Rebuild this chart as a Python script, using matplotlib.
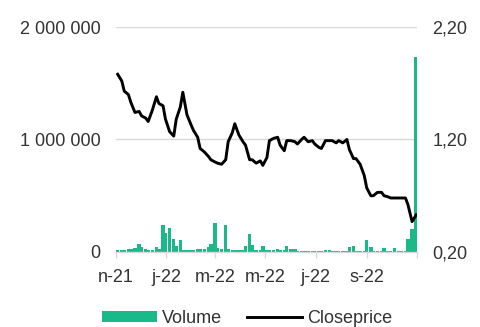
import matplotlib
matplotlib.use("Agg")
import matplotlib.pyplot as plt
from matplotlib.patches import Patch
from matplotlib.lines import Line2D
from matplotlib.ticker import FuncFormatter
import pandas as pd

plt.rcParams['font.family'] = ['Liberation Sans', 'DejaVu Sans']

# Trading days sampled every third session, Nov 2021 - Oct 2022
dates = pd.bdate_range('2021-11-01', '2022-10-31')[2::3]

closeprice = [
    1.78, 1.72, 1.63, 1.60, 1.53, 1.44, 1.45, 1.41, 1.39, 1.36,
    1.46, 1.58, 1.52, 1.50, 1.38, 1.27, 1.23, 1.38, 1.49, 1.62,
    1.42, 1.33, 1.28, 1.22, 1.12, 1.09, 1.05, 1.02, 1.00, 0.99,
    0.98, 1.02, 1.18, 1.26, 1.34, 1.24, 1.18, 1.15, 1.02, 1.02,
    0.99, 1.01, 0.97, 1.04, 1.19, 1.21, 1.22, 1.15, 1.10, 1.19,
    1.19, 1.18, 1.16, 1.20, 1.22, 1.18, 1.19, 1.16, 1.13, 1.12,
    1.19, 1.19, 1.19, 1.17, 1.19, 1.17, 1.20, 1.11, 1.03, 1.03,
    0.98, 0.88, 0.77, 0.70, 0.70, 0.73, 0.73, 0.70, 0.69, 0.68,
    0.68, 0.68, 0.68, 0.68, 0.62, 0.47, 0.53,
]

volume = [
    18000, 18000, 20000, 25000, 30000, 35000, 68000, 40000, 25000, 15000,
    20000, 40000, 30000, 240000, 170000, 217000, 113000, 50000, 104000, 20000,
    18000, 18000, 20000, 28000, 30000, 30000, 40000, 68000, 256000, 35000,
    30000, 240000, 30000, 18000, 18000, 20000, 20000, 50000, 158000, 60000,
    18000, 15000, 54000, 20000, 15000, 15000, 28000, 15000, 18000, 54000,
    30000, 25000, 12000, 10000, 10000, 10000, 8000, 10000, 8000, 10000,
    15000, 18000, 8000, 10000, 10000, 10000, 12000, 40000, 54000, 12000,
    8000, 8000, 107000, 40000, 12000, 10000, 10000, 35000, 10000, 10000,
    35000, 10000, 8000, 10000, 113000, 200000, 1730000,
]

tick_dates = ['2021-11-01', '2022-01-01', '2022-03-01', '2022-05-01',
              '2022-07-01', '2022-09-01', '2022-11-01']
tick_labels = ['n-21', 'j-22', 'm-22', 'm-22', 'j-22', 's-22', '']

green = '#19b98a'
text_color = '#333333'
grid_color = '#d9d9d9'

fig = plt.figure(figsize=(4.8, 3.27), dpi=100)
ax = fig.add_axes([0.2417, 0.2294, 0.6271, 0.688])
ax2 = ax.twinx()

ax.bar(dates, volume, width=4.2, color=green, align='center',
       linewidth=0, zorder=2)
ax2.plot(dates, closeprice, color='black', lw=2.1, zorder=3)

ax.set_ylim(0, 2000000)
ax.set_yticks([0, 1000000, 2000000])
ax.yaxis.set_major_formatter(FuncFormatter(lambda v, _: f"{int(v):,}".replace(',', ' ')))
ax2.set_ylim(0.2, 2.2)
ax2.set_yticks([0.2, 1.2, 2.2])
ax2.yaxis.set_major_formatter(FuncFormatter(lambda v, _: f"{v:.2f}".replace('.', ',')))

ax.set_xlim(pd.Timestamp('2021-11-01'), pd.Timestamp('2022-11-01'))
ax.set_xticks(pd.to_datetime(tick_dates))
ax.set_xticklabels(tick_labels)

for a in (ax, ax2):
    for s in ('top', 'left', 'right', 'bottom'):
        a.spines[s].set_visible(False)
ax.spines['bottom'].set_visible(True)
ax.spines['bottom'].set_color(grid_color)
ax.spines['bottom'].set_linewidth(1.0)

ax.yaxis.grid(True, color=grid_color, lw=1.0, zorder=0)
ax.set_axisbelow(True)

ax.tick_params(axis='y', length=0, pad=11, labelsize=13, labelcolor=text_color)
ax2.tick_params(axis='y', length=0, pad=11, labelsize=13, labelcolor=text_color)
ax.tick_params(axis='x', length=4, color=grid_color, width=1.0, pad=8,
               labelsize=13, labelcolor=text_color)

handles = [Patch(facecolor=green, edgecolor='none'),
           Line2D([], [], color='black', lw=2.1)]
fig.legend(handles, ['Volume', 'Closeprice'], loc='center',
           bbox_to_anchor=(0.515, 0.026), ncol=2, frameon=False,
           fontsize=13, handlelength=3.0, handleheight=0.55,
           handletextpad=0.3, columnspacing=1.4, labelcolor=text_color,
           borderpad=0.0)

fig.savefig('out.png', dpi=100)
